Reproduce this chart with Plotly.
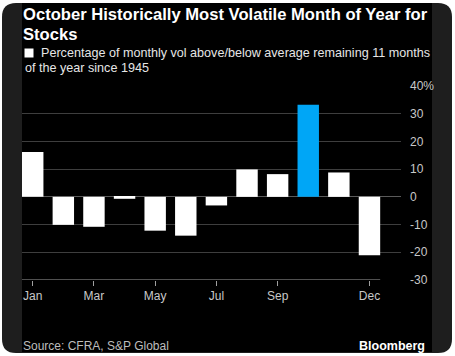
import plotly.graph_objects as go

months = ["Jan", "Feb", "Mar", "Apr", "May", "Jun", "Jul", "Aug", "Sep", "Oct", "Nov", "Dec"]
values = [16.2, -10.1, -10.8, -0.7, -12.2, -14.0, -3.1, 9.9, 8.2, 33.2, 8.8, -21.1]
highlight = "Oct"
tick_months = ["Jan", "Mar", "May", "Jul", "Sep", "Dec"]
y_tickvals = [40, 30, 20, 10, 0, -10, -20, -30]
y_ticktext = ["40%", "30", "20", "10", "0", "-10", "-20", "-30"]

W, H = 455, 356
L, R, T, B = 22, 54, 86, 76
PW, PH = W - L - R, H - T - B


def px(x):
    return (x - L) / PW


def py(y):
    return (H - B - y) / PH


colors = ["#00a6f6" if m == highlight else "#ffffff" for m in months]

fig = go.Figure()
fig.add_trace(go.Bar(x=months, y=values, marker=dict(color=colors, line=dict(width=0)),
                     hoverinfo="skip"))

# frame shapes
x0, x1, y0, y1, r = 2, 452, 3, 353, 14
path = (f"M {px(x0 + r)} {py(y0)} L {px(x1 - r)} {py(y0)} Q {px(x1)} {py(y0)} {px(x1)} {py(y0 + r)} "
        f"L {px(x1)} {py(y1 - r)} Q {px(x1)} {py(y1)} {px(x1 - r)} {py(y1)} "
        f"L {px(x0 + r)} {py(y1)} Q {px(x0)} {py(y1)} {px(x0)} {py(y1 - r)} "
        f"L {px(x0)} {py(y0 + r)} Q {px(x0)} {py(y0)} {px(x0 + r)} {py(y0)} Z")
shapes = [
    dict(type="path", path=path, xref="paper", yref="paper", fillcolor="#1e1e1e",
         line=dict(width=0), layer="below"),
    dict(type="rect", xref="paper", yref="paper", x0=px(22), x1=px(432), y0=py(3), y1=py(352),
         fillcolor="#000000", line=dict(width=0), layer="below"),
    # legend square
    dict(type="rect", xref="paper", yref="paper", x0=px(24.5), x1=px(33.5), y0=py(57.5), y1=py(48.5),
         fillcolor="#ffffff", line=dict(width=0)),
    # x axis line
    dict(type="line", xref="x", yref="y", x0=-0.35, x1=11.35, y0=-30, y1=-30,
         line=dict(color="#a0a0a0", width=1.2)),
    dict(type="line", xref="x", yref="y", x0=11.38, x1=11.87, y0=-30, y1=-30,
         line=dict(color="#000000", width=1.5)),
]

ann = [
    dict(text="<b>October Historically Most Volatile Month of Year for</b>", x=px(21), y=py(14.5),
         font=dict(size=16.6, color="#ffffff")),
    dict(text="<b>Stocks</b>", x=px(21), y=py(34.5), font=dict(size=16.6, color="#ffffff")),
    dict(text="Percentage of monthly vol above/below average remaining 11 months", x=px(39),
         y=py(53.5), font=dict(size=12.6, color="#e6e6e6")),
    dict(text="of the year since 1945", x=px(23), y=py(68), font=dict(size=12.6, color="#e6e6e6")),
    dict(text="Source: CFRA, S&P Global", x=px(21), y=py(346), font=dict(size=12, color="#bdbdbd")),
]
annotations = []
for a in ann:
    a.update(xref="paper", yref="paper", xanchor="left", yanchor="middle", showarrow=False)
    a["font"]["family"] = "Liberation Sans, Arial, sans-serif"
    annotations.append(a)
annotations.append(dict(text="<b>Bloomberg</b>", x=px(427), y=py(345.5), xref="paper", yref="paper",
                        xanchor="right", yanchor="middle", showarrow=False,
                        font=dict(size=12.5, color="#ffffff", family="Liberation Sans, Arial, sans-serif")))

fig.update_layout(
    width=W, height=H,
    margin=dict(l=L, r=R, t=T, b=B, pad=0),
    paper_bgcolor="#ffffff",
    plot_bgcolor="rgba(0,0,0,0)",
    showlegend=False,
    bargap=0.3,
    shapes=shapes,
    annotations=annotations,
    font=dict(family="Liberation Sans, Arial, sans-serif", size=12, color="#c8c8c8"),
    xaxis=dict(type="category", range=[-0.35, 12.03], tickmode="array", tickvals=tick_months,
               ticktext=tick_months, ticks="outside", ticklen=5, tickcolor="#a0a0a0", tickwidth=1,
               showgrid=False, showline=False, zeroline=False,
               tickfont=dict(size=12, color="#c8c8c8")),
    yaxis=dict(side="right", range=[-30, 40], tickmode="array", tickvals=y_tickvals,
               ticktext=y_ticktext, showgrid=True, gridcolor="#3e3e3e", gridwidth=1,
               zeroline=True, zerolinecolor="#5a5a5a", zerolinewidth=1, showline=False,
               ticks="", ticklabelstandoff=8, tickfont=dict(size=12, color="#c8c8c8")),
)

fig.write_html("out.html", config={"displayModeBar": False},
               post_script="document.body.style.margin='0';document.body.style.overflow='hidden';")
